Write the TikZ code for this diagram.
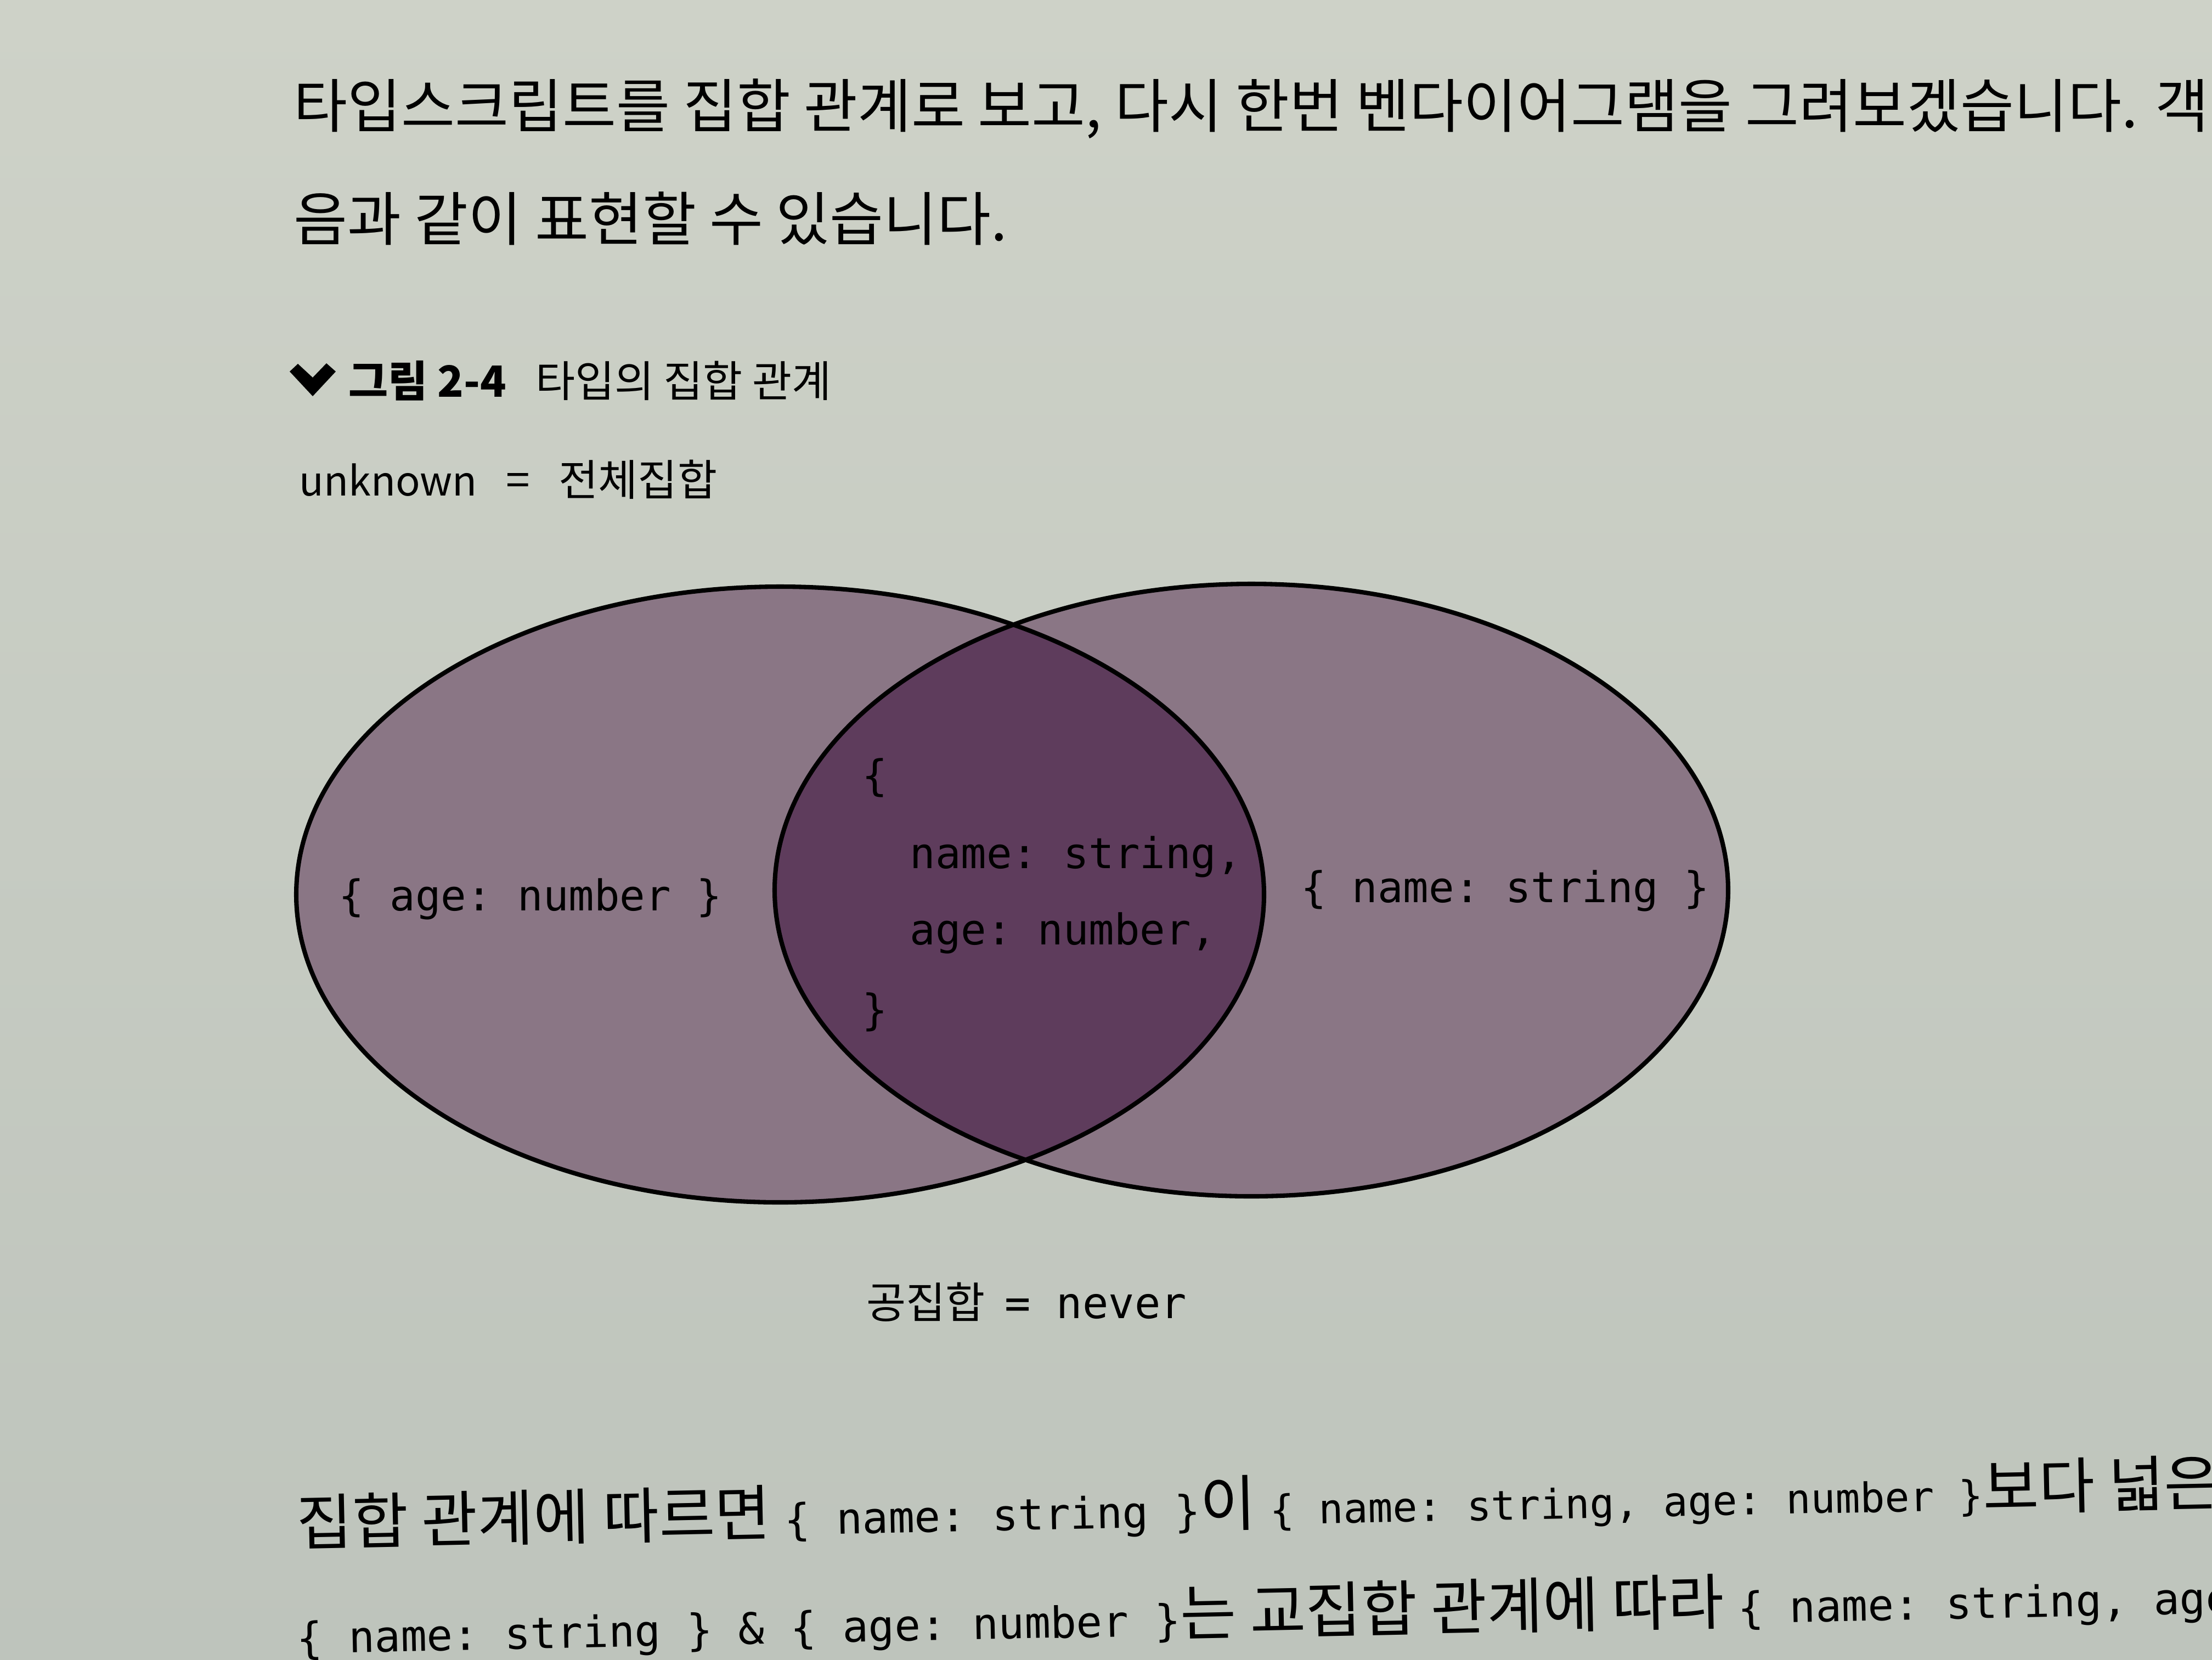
\documentclass[tikz,border=0pt]{standalone}
\usepackage{fontspec}
\setmainfont{Noto Sans CJK KR}
\setmonofont{DejaVu Sans Mono}
\newfontfamily\kor{Noto Sans CJK KR}
\usepackage{xcolor}
\usetikzlibrary{math}

\definecolor{paperTop}{RGB}{206,210,200}
\definecolor{paperMid}{RGB}{166,175,167}
\definecolor{paperBot}{RGB}{190,196,188}
\definecolor{vennLight}{RGB}{138,118,133}
\definecolor{vennDark}{RGB}{94,60,92}

\newcommand{\src}[1]{{\ttfamily\fontsize{22.4pt}{26pt}\selectfont #1}}

\tikzset{
 bodytext/.style={anchor=west, inner sep=0pt, font=\kor\fontsize{30.3pt}{36pt}\selectfont},
 lowtext/.style={anchor=west, inner sep=0pt, rotate=1.2, font=\kor\fontsize{31.5pt}{36pt}\selectfont},
 figtext/.style={anchor=west, inner sep=0pt, font=\kor\fontsize{22.3pt}{26pt}\selectfont},
 codetext/.style={anchor=west, inner sep=0pt, font=\ttfamily\fontsize{22pt}{26pt}\selectfont},
 setline/.style={line width=2.3pt, black}
}

\begin{document}
\begin{tikzpicture}
\tikzmath{
\lx=14.22; \ly=-16.30;
\rx=22.81; \ry=-16.22;
\la=8.82; \lb=5.61;
\ra=8.69; \rb=5.58;
}
\useasboundingbox (0,0) rectangle (40.32,-30.24);
\clip (0,0) rectangle (40.32,-30.24);
\shade[top color=paperTop, middle color=paperMid, bottom color=paperBot] (0,0) rectangle (40.32,-30.24);

\node[bodytext] (intro1) at (5.35,-1.98) {타입스크립트를 집합 관계로 보고, 다시 한번 벤다이어그램을 그려보겠습니다. 객};
\node[bodytext] (intro2) at (5.35,-3.98) {음과 같이 표현할 수 있습니다.};

\fill[black] (5.28,-6.77) -- (5.43,-6.63) -- (5.70,-6.88) -- (5.95,-6.62) -- (6.12,-6.77) -- (5.70,-7.22) -- cycle;
\node[figtext] (caption) at (6.35,-6.94) {\bfseries 그림 2-4\mdseries\ \ \ 타입의 집합 관계};
\node[figtext] (universe) at (5.45,-8.74) {{\fontsize{21pt}{26pt}\selectfont unknown} \ \ = \ \ 전체집합};

\fill[vennLight] (\lx,\ly) ellipse [x radius=\la, y radius=\lb];
\fill[vennLight] (\rx,\ry) ellipse [x radius=\ra, y radius=\rb];
\begin{scope}
 \clip (\lx,\ly) ellipse [x radius=\la, y radius=\lb];
 \fill[vennDark] (\rx,\ry) ellipse [x radius=\ra, y radius=\rb];
\end{scope}
\draw[setline] (\lx,\ly) ellipse [x radius=\la, y radius=\lb];
\draw[setline] (\rx,\ry) ellipse [x radius=\ra, y radius=\rb];

\node[codetext] (ageset) at (6.17,-16.38) {\{ age: number \}};
\node[codetext] (nameset) at (23.71,-16.23) {\{ name: string \}};
\node[codetext] (open) at (15.71,-14.17) {\{};
\node[codetext] (namekey) at (16.58,-15.61) {name: string,};
\node[codetext] (agekey) at (16.58,-17.00) {age: number,};
\node[codetext] (close) at (15.71,-18.44) {\}};

\node[figtext] (empty) at (15.79,-23.73) {공집합\ \ \src{= never}};

\node[lowtext] (outro1) at (5.40,-27.78) {집합 관계에 따르면 \src{\{ name: string \}}이 {\ttfamily\fontsize{21.2pt}{26pt}\selectfont \{ name: string, age: number \}}보다 넓은};
\node[lowtext] (outro2) at (5.40,-29.76) {\src{\{ name: string \} \& \{ age: number \}}는 교집합 관계에 따라 \src{\{ name: string, age}};
\end{tikzpicture}
\end{document}
